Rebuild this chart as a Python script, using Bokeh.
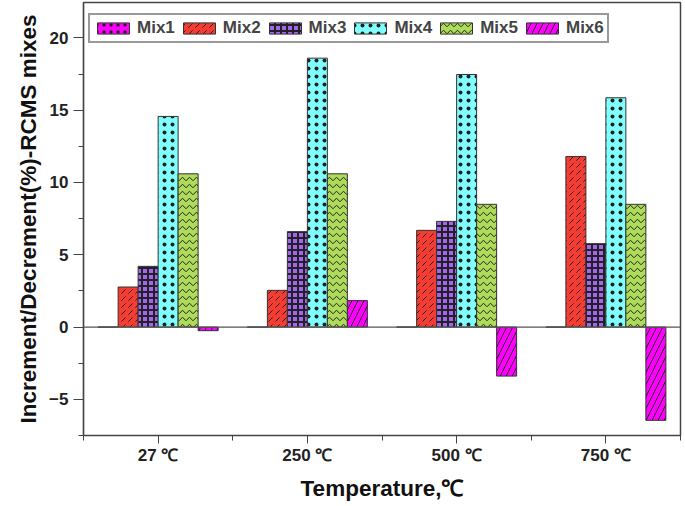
import numpy as np
from bokeh.models import ColumnDataSource, Range1d, FixedTicker, SingleIntervalTicker, Span
from bokeh.plotting import figure
from bokeh.transform import dodge
from bokeh.embed import file_html
from bokeh.resources import INLINE

# 資料
temps = ["27 ℃", "250 ℃", "500 ℃", "750 ℃"]
mixes = ["Mix1", "Mix2", "Mix3", "Mix4", "Mix5", "Mix6"]
mix1 = [0.0, 0.0, 0.0, 0.0]
mix2 = [2.77, 2.54, 6.69, 11.80]
mix3 = [4.20, 6.60, 7.31, 5.77]
mix4 = [14.57, 18.60, 17.47, 15.86]
mix5 = [10.60, 10.60, 8.49, 8.49]
mix6 = [-0.25, 1.83, -3.39, -6.45]

FONT = "Liberation Sans"

source = ColumnDataSource(data=dict(
    x=list(range(len(temps))),
    Mix1=mix1, Mix2=mix2, Mix3=mix3, Mix4=mix4, Mix5=mix5, Mix6=mix6,
))

p = figure(width=683, height=504, output_backend="svg", toolbar_location=None,
           x_range=Range1d(-0.5, 3.5), y_range=Range1d(-7.5, 22.45),
           min_border_left=83, min_border_right=3, min_border_top=2, min_border_bottom=69)

# 樣式: 填色、花紋
styles = {
    "Mix1": dict(fill_color="#FF00FF", hatch_pattern="dot", hatch_scale=7, hatch_weight=1),
    "Mix2": dict(fill_color="#F53C32", hatch_pattern="right_diagonal_dash", hatch_scale=7, hatch_weight=1),
    "Mix3": dict(fill_color="#A466F0", hatch_pattern="cross", hatch_scale=6, hatch_weight=2),
    "Mix4": dict(fill_color="#80FFFF", hatch_pattern="dot", hatch_scale=8, hatch_weight=0.6),
    "Mix5": dict(fill_color="#AEDC5A", hatch_pattern="horizontal_wave", hatch_scale=7, hatch_weight=1),
    "Mix6": dict(fill_color="#FF00FF", hatch_pattern="right_diagonal_line", hatch_scale=12, hatch_weight=1),
}

w = 0.134
for i, m in enumerate(mixes):
    p.vbar(x=dodge("x", (i - 2.5) * w, range=p.x_range), top=m, bottom=0, width=w,
           source=source, line_color="#333333", line_width=1, hatch_color="#222222",
           legend_label=m, **styles[m])

p.add_layout(Span(location=0, dimension="width", line_color="#555555", line_width=1.2))

p.xgrid.visible = False
p.ygrid.visible = False
p.outline_line_color = "#444444"
p.outline_line_width = 1.5

# x 軸
p.xaxis.ticker = FixedTicker(ticks=[0, 1, 2, 3], minor_ticks=[-0.5, 0.5, 1.5, 2.5, 3.5])
p.xaxis.major_label_overrides = {i: t for i, t in enumerate(temps)}
p.xaxis.axis_label = "Temperature,℃"
p.xaxis.major_tick_out = 8
p.xaxis.major_tick_in = 0
p.xaxis.minor_tick_out = 5
p.xaxis.minor_tick_in = 0
p.xaxis.major_label_standoff = 2
p.xaxis.axis_label_standoff = 8

# y 軸
p.yaxis.ticker = SingleIntervalTicker(interval=5, num_minor_ticks=2)
p.yaxis.major_label_overrides = {-5: "−5"}
p.yaxis.axis_label = "Increment/Decrement(%)-RCMS mixes"
p.yaxis.major_tick_out = 10
p.yaxis.major_tick_in = 0
p.yaxis.minor_tick_out = 5
p.yaxis.minor_tick_in = 0
p.yaxis.major_label_standoff = 5

for ax in (p.xaxis, p.yaxis):
    ax.axis_line_color = "#444444"
    ax.axis_line_width = 1.2
    ax.major_tick_line_color = "#444444"
    ax.minor_tick_line_color = "#444444"
    ax.major_label_text_font = FONT
    ax.major_label_text_font_style = "bold"
    ax.major_label_text_font_size = "17px"
    ax.major_label_text_color = "#222222"
    ax.axis_label_text_font = FONT
    ax.axis_label_text_font_style = "bold"
    ax.axis_label_text_font_size = "22.5px"
    ax.axis_label_text_color = "#111111"

# 圖例
p.legend.orientation = "horizontal"
p.legend.location = (5, 392)
p.legend.margin = 0
p.legend.padding = 3
p.legend.spacing = 4
p.legend.glyph_width = 40
p.legend.glyph_height = 14
p.legend.label_standoff = 4
p.legend.label_text_font = FONT
p.legend.label_text_font_style = "bold"
p.legend.label_text_font_size = "17px"
p.legend.label_height = 14
p.legend.border_line_color = "#333333"
p.legend.border_line_width = 2
p.legend.background_fill_alpha = 1

open("out.html", "w").write(file_html(p, INLINE))
